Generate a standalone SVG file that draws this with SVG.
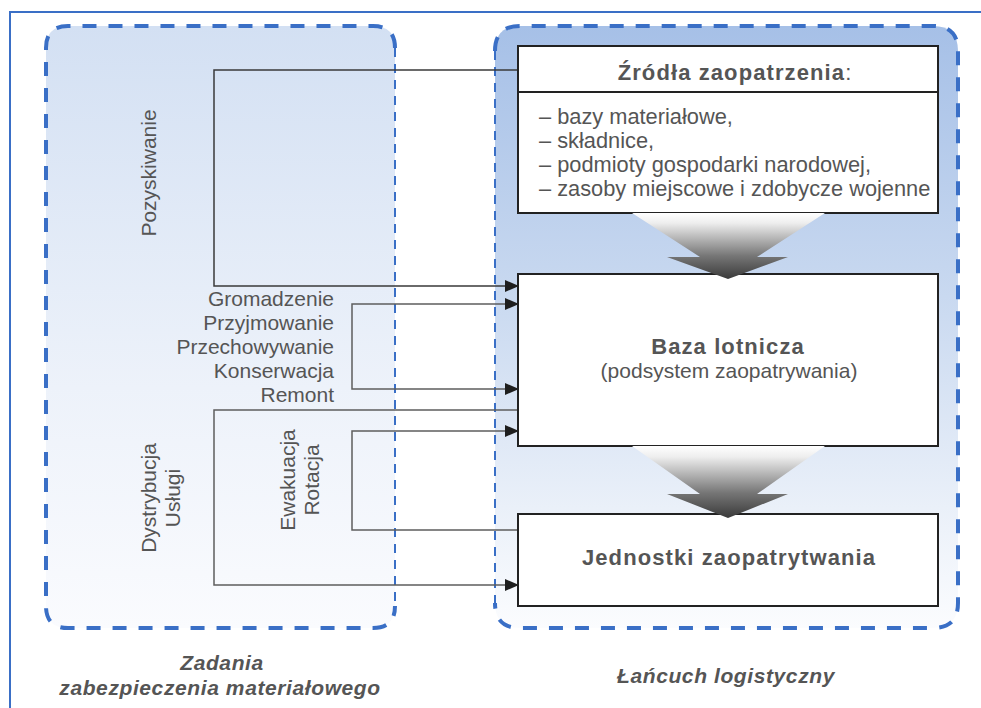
<svg xmlns="http://www.w3.org/2000/svg" width="981" height="708" viewBox="0 0 981 708">
  <defs>
    <linearGradient id="gradTasks" x1="0" y1="26" x2="0" y2="628" gradientUnits="userSpaceOnUse">
      <stop offset="0" stop-color="#d3e0f3"/>
      <stop offset="0.6" stop-color="#edf2fa"/>
      <stop offset="1" stop-color="#fafbfe"/>
    </linearGradient>
    <linearGradient id="gradChain" x1="0" y1="26" x2="0" y2="628" gradientUnits="userSpaceOnUse">
      <stop offset="0" stop-color="#a6c0e7"/>
      <stop offset="0.45" stop-color="#c9d9f0"/>
      <stop offset="0.8" stop-color="#eaf0f9"/>
      <stop offset="1" stop-color="#fbfcfe"/>
    </linearGradient>
    <linearGradient id="gradFunnel1" x1="0" y1="213" x2="0" y2="279" gradientUnits="userSpaceOnUse">
      <stop offset="0" stop-color="#ffffff"/>
      <stop offset="0.15" stop-color="#eeeeee"/>
      <stop offset="0.65" stop-color="#767676"/>
      <stop offset="1" stop-color="#3a3a3a"/>
    </linearGradient>
    <linearGradient id="gradFunnel2" x1="0" y1="446" x2="0" y2="518" gradientUnits="userSpaceOnUse">
      <stop offset="0" stop-color="#ffffff"/>
      <stop offset="0.15" stop-color="#eeeeee"/>
      <stop offset="0.65" stop-color="#767676"/>
      <stop offset="1" stop-color="#3a3a3a"/>
    </linearGradient>
    <marker id="arrow" viewBox="0 0 14 12" refX="13" refY="6" markerWidth="14" markerHeight="12" markerUnits="userSpaceOnUse" orient="auto-start-reverse">
      <path d="M0,0 L14,6 L0,12 z" fill="#1e1e1e"/>
    </marker>
    <style>
      .frame { fill: none; stroke: #3a6fc6; stroke-width: 2; }
      .dash { fill: none; stroke: #3a6fc6; stroke-width: 4; stroke-dasharray: 14 12; }
      .dashThin { fill: none; stroke: #3a6fc6; stroke-width: 2; stroke-dasharray: 9 7; }
      .box { fill: #ffffff; stroke: #222222; stroke-width: 2; }
      .conn { fill: none; stroke: #5e5e5e; stroke-width: 1.5; }
      .txt { font-family: "Liberation Sans", Arial, sans-serif; fill: #555555; font-size: 21px; }
      .list { font-size: 21.8px; }
      .bold { font-weight: bold; font-size: 22px; letter-spacing: 1.1px; }
      .label { font-family: "Liberation Sans", Arial, sans-serif; fill: #555555; font-size: 21px; letter-spacing: 0.6px; font-weight: bold; font-style: italic; text-anchor: middle; }
    </style>
  </defs>

  <rect x="0" y="0" width="981" height="708" fill="#ffffff"/>
  <path class="frame" d="M10,708 V12 H981"/>

  <!-- material support tasks area -->
  <g id="tasks-area">
    <path d="M68,26 H373 Q395,26 395,48 V606 Q395,628 373,628 H68 Q46,628 46,606 V48 Q46,26 68,26 z" fill="url(#gradTasks)"/>
    <path class="dash" d="M395,48 Q395,26 373,26 H68 Q46,26 46,48 V606 Q46,628 68,628 H373 Q395,628 395,606"/>
    <line class="dashThin" x1="395" y1="48" x2="395" y2="606"/>
  </g>

  <!-- logistics chain area -->
  <g id="chain-area">
    <path d="M520,26 H933 Q958,26 958,51 V603 Q958,628 933,628 H520 Q495,628 495,603 V51 Q495,26 520,26 z" fill="url(#gradChain)"/>
    <path class="dash" d="M495,51 Q495,26 520,26 H933 Q958,26 958,51 V603 Q958,628 933,628 H520 Q495,628 495,603"/>
    <line class="dashThin" x1="495" y1="51" x2="495" y2="603"/>
  </g>

  <!-- connectors -->
  <g id="connectors">
    <path class="conn" d="M518,70 H214 V286 H518" marker-end="url(#arrow)" style="stroke:#3a3a3a"/>
    <path class="conn" d="M518,304 H352 V389 H518" marker-start="url(#arrow)" marker-end="url(#arrow)"/>
    <path class="conn" d="M518,410 H214 V585 H518" marker-end="url(#arrow)"/>
    <path class="conn" d="M518,530 H352 V431 H518" marker-end="url(#arrow)"/>
  </g>

  <!-- supply sources -->
  <g id="node-sources">
    <rect class="box" x="518" y="46" width="420" height="167"/>
    <line x1="518" y1="92" x2="938" y2="92" stroke="#222222" stroke-width="2"/>
    <text class="txt bold" x="735" y="80" text-anchor="middle">Źródła zaopatrzenia<tspan font-weight="normal">:</tspan></text>
    <text class="txt list" x="539" y="124">– bazy materiałowe,</text>
    <text class="txt list" x="539" y="148">– składnice,</text>
    <text class="txt list" x="539" y="172">– podmioty gospodarki narodowej,</text>
    <text class="txt list" x="539" y="196">– zasoby miejscowe i zdobycze wojenne</text>
  </g>

  <!-- air base -->
  <g id="node-airbase">
    <rect class="box" x="518" y="274" width="420" height="172"/>
    <text class="txt bold" x="728" y="354" text-anchor="middle">Baza lotnicza</text>
    <text class="txt" x="729" y="378" text-anchor="middle">(podsystem zaopatrywania)</text>
  </g>

  <!-- supplied units -->
  <g id="node-units">
    <rect class="box" x="518" y="514" width="420" height="92"/>
    <text class="txt bold" x="729" y="565" text-anchor="middle">Jednostki zaopatrytwania</text>
  </g>

  <!-- flow arrows between chain links -->
  <g id="flow-arrows">
    <polygon points="632,213 825,213 757,257 788,257 728,279 667,257 700,257" fill="url(#gradFunnel1)"/>
    <polygon points="632,446 825,446 757,494 788,494 728,518 667,494 700,494" fill="url(#gradFunnel2)"/>
  </g>

  <!-- task labels -->
  <g id="task-labels">
    <text class="txt" transform="translate(156,173) rotate(-90)" text-anchor="middle">Pozyskiwanie</text>
    <text class="txt" x="334" y="306" text-anchor="end">Gromadzenie</text>
    <text class="txt" x="334" y="330" text-anchor="end">Przyjmowanie</text>
    <text class="txt" x="334" y="354" text-anchor="end">Przechowywanie</text>
    <text class="txt" x="334" y="378" text-anchor="end">Konserwacja</text>
    <text class="txt" x="334" y="402" text-anchor="end">Remont</text>
    <text class="txt" transform="translate(156,498) rotate(-90)" text-anchor="middle">Dystrybucja</text>
    <text class="txt" transform="translate(180,498) rotate(-90)" text-anchor="middle">Usługi</text>
    <text class="txt" transform="translate(295,480) rotate(-90)" text-anchor="middle">Ewakuacja</text>
    <text class="txt" transform="translate(319,480) rotate(-90)" text-anchor="middle">Rotacja</text>
  </g>

  <!-- area captions -->
  <g id="captions">
    <text class="label" x="222" y="670">Zadania</text>
    <text class="label" x="220" y="695">zabezpieczenia materiałowego</text>
    <text class="label" x="726" y="683">Łańcuch logistyczny</text>
  </g>
</svg>
